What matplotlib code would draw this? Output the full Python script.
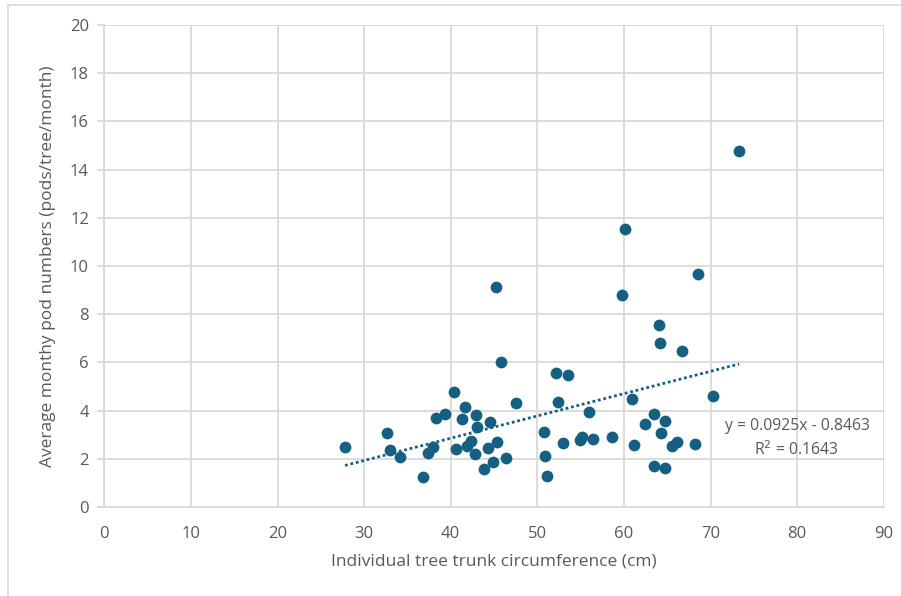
import matplotlib
matplotlib.use("Agg")
import matplotlib.pyplot as plt
import numpy as np

# Data
circumference = [27.8, 32.7, 33.0, 34.2, 36.8, 37.4, 38.0, 38.3, 39.3, 40.4,
                 40.6, 41.7, 41.3, 41.9, 42.4, 42.9, 43.0, 42.8, 44.5, 44.3,
                 45.3, 44.9, 43.9, 46.4, 47.5, 50.8, 50.9, 51.1, 52.2, 52.4,
                 53.0, 60.1, 68.5, 59.8, 64.0, 64.2, 66.7, 53.6, 60.9, 70.3,
                 56.0, 63.5, 64.8, 62.4, 64.3, 54.9, 55.2, 56.4, 58.6, 61.2,
                 65.5, 66.1, 68.2, 63.5, 64.8, 73.3, 45.2, 45.8]
pods = [2.50, 3.08, 2.37, 2.06, 1.26, 2.25, 2.48, 3.71, 3.85, 4.78,
        2.41, 4.16, 3.65, 2.53, 2.75, 3.82, 3.31, 2.19, 3.54, 2.46,
        2.71, 1.85, 1.56, 2.05, 4.33, 3.11, 2.12, 1.29, 5.57, 4.37,
        2.64, 11.52, 9.67, 8.80, 7.54, 6.82, 6.47, 5.48, 4.48, 4.62,
        3.93, 3.86, 3.58, 3.44, 3.06, 2.78, 2.89, 2.82, 2.92, 2.57,
        2.53, 2.71, 2.61, 1.70, 1.61, 14.77, 9.12, 6.00]
slope = 0.0925
intercept = -0.8463
r_squared = 0.1643
x_ticks = [0, 10, 20, 30, 40, 50, 60, 70, 80, 90]
y_ticks = [0, 2, 4, 6, 8, 10, 12, 14, 16, 18, 20]

plt.rcParams['font.family'] = ['Open Sans', 'DejaVu Sans']
color = '#156082'
txt = '#595959'
grid = '#D9D9D9'

fig = plt.figure(figsize=(9.01, 5.96), dpi=100)
ax = fig.add_axes([104.3/901, 1-507/596, (883.7-104.3)/901, (507-25)/596])

# outer chart border
fig.patches.append(plt.Rectangle((8/901, -0.1), 1.2, 1-5/596+0.1, transform=fig.transFigure,
                                 fill=False, edgecolor='#D9D9D9', linewidth=1.2))

ax.scatter(circumference, pods, s=72, color=color, zorder=3, linewidths=0)
xs = np.array([min(circumference), max(circumference)])
ax.plot(xs, slope*xs + intercept, color=color, linestyle=(0, (1, 1)), linewidth=2, zorder=2)

ax.set_xlim(0, 90)
ax.set_ylim(0, 20)
ax.set_xticks(x_ticks)
ax.set_yticks(y_ticks)
ax.grid(True, color=grid, linewidth=1.3, zorder=0)
ax.set_axisbelow(True)
for s in ['top', 'right']:
    ax.spines[s].set_visible(False)
for s in ['left', 'bottom']:
    ax.spines[s].set_color(grid)
    ax.spines[s].set_linewidth(1.3)
ax.tick_params(axis='y', length=5, color=grid, width=1.3, labelcolor=txt, labelsize=12, pad=6)
ax.tick_params(axis='x', length=0, labelcolor=txt, labelsize=12, pad=14)

ax.set_xlabel('Individual tree trunk circumference (cm)', color=txt, fontsize=12.5, labelpad=8)
ax.set_ylabel('Average monthy pod numbers (pods/tree/month)', color=txt, fontsize=12.5, labelpad=10)

ax.annotate(f'y = {slope}x - {abs(intercept)}', xy=(797/901, 1-426/596), xycoords='figure fraction',
            ha='center', va='center', color=txt, fontsize=11.3)
ax.annotate(f'R$^2$ = {r_squared}', xy=(796/901, 1-450/596), xycoords='figure fraction',
            ha='center', va='center', color=txt, fontsize=11.3)

fig.savefig('out.png', dpi=100)
